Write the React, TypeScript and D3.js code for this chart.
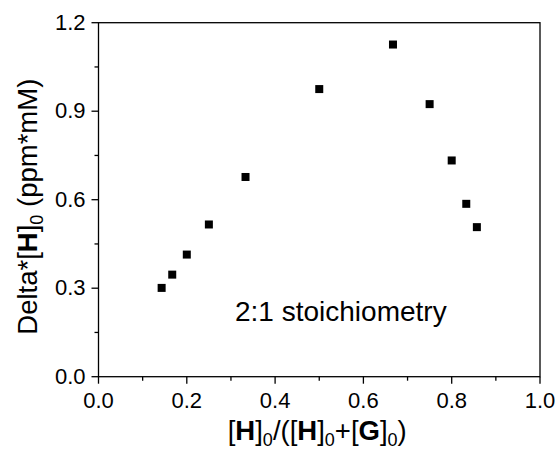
import React, { useRef, useEffect } from "react";
import * as d3 from "d3";

// mole fraction of host vs Delta*[H]0
const fractions = [0.143, 0.167, 0.2, 0.25, 0.333, 0.5, 0.667, 0.75, 0.8, 0.833, 0.857];
const deltaH = [0.301, 0.346, 0.414, 0.516, 0.677, 0.975, 1.126, 0.924, 0.733, 0.586, 0.507];
const xTicks = [0, 0.2, 0.4, 0.6, 0.8, 1.0];
const yTicks = [0, 0.3, 0.6, 0.9, 1.2];

const W = 555;
const H = 451;
const FONT = "Arial, 'Liberation Sans', sans-serif";

export default function App() {
  const svgRef = useRef<SVGSVGElement>(null);

  useEffect(() => {
    const svg = d3.select(svgRef.current);
    svg.selectAll("*").remove();

    const left = 98.5, right = 540, top = 22.7, bottom = 376.7;
    const x = d3.scaleLinear().domain([0, 1]).range([left, right]);
    const y = d3.scaleLinear().domain([0, 1.2]).range([bottom, top]);

    // frame
    svg.append("rect")
      .attr("x", left).attr("y", top)
      .attr("width", right - left).attr("height", bottom - top)
      .attr("fill", "none").attr("stroke", "#000").attr("stroke-width", 1.3);

    // x ticks
    const xMinor = d3.range(0.1, 1, 0.2);
    svg.append("g").selectAll("line").data(xTicks).join("line")
      .attr("x1", d => x(d)).attr("x2", d => x(d))
      .attr("y1", bottom).attr("y2", bottom + 7)
      .attr("stroke", "#000").attr("stroke-width", 1.3);
    svg.append("g").selectAll("line").data(xMinor).join("line")
      .attr("x1", d => x(d)).attr("x2", d => x(d))
      .attr("y1", bottom).attr("y2", bottom + 4)
      .attr("stroke", "#000").attr("stroke-width", 1.3);
    svg.append("g").selectAll("text").data(xTicks).join("text")
      .attr("x", d => x(d)).attr("y", bottom + 31)
      .attr("text-anchor", "middle")
      .attr("font-family", FONT).attr("font-size", 22)
      .text(d => d.toFixed(1));

    // y ticks
    const yMinor = [0.15, 0.45, 0.75, 1.05];
    svg.append("g").selectAll("line").data(yTicks).join("line")
      .attr("x1", left - 7).attr("x2", left)
      .attr("y1", d => y(d)).attr("y2", d => y(d))
      .attr("stroke", "#000").attr("stroke-width", 1.3);
    svg.append("g").selectAll("line").data(yMinor).join("line")
      .attr("x1", left - 4).attr("x2", left)
      .attr("y1", d => y(d)).attr("y2", d => y(d))
      .attr("stroke", "#000").attr("stroke-width", 1.3);
    svg.append("g").selectAll("text").data(yTicks).join("text")
      .attr("x", left - 13).attr("y", d => y(d) + 7)
      .attr("text-anchor", "end")
      .attr("font-family", FONT).attr("font-size", 22)
      .text(d => d.toFixed(1));

    // points
    const pts = fractions.map((f, i) => [f, deltaH[i]]);
    svg.append("g").selectAll("rect").data(pts).join("rect")
      .attr("x", d => x(d[0]) - 4).attr("y", d => y(d[1]) - 4)
      .attr("width", 8).attr("height", 8)
      .attr("fill", "#000");

    // annotation
    svg.append("text")
      .attr("x", 235).attr("y", 320.7)
      .attr("font-family", FONT).attr("font-size", 28)
      .text("2:1 stoichiometry");

    // x title
    const xt = svg.append("text")
      .attr("x", (left + right) / 2 - 2).attr("y", 440)
      .attr("text-anchor", "middle")
      .attr("font-family", FONT).attr("font-size", 27.5);
    const sub = (t: any, s: string) =>
      t.append("tspan").attr("font-size", 18).attr("dy", 6).text(s);
    const back = (t: any, s: string) =>
      t.append("tspan").attr("dy", -6).text(s);
    xt.append("tspan").text("[");
    xt.append("tspan").attr("font-weight", "bold").text("H");
    xt.append("tspan").text("]");
    sub(xt, "0");
    back(xt, "/([");
    xt.append("tspan").attr("font-weight", "bold").text("H");
    xt.append("tspan").text("]");
    sub(xt, "0");
    back(xt, "+[");
    xt.append("tspan").attr("font-weight", "bold").text("G");
    xt.append("tspan").text("]");
    sub(xt, "0");
    back(xt, ")");

    // y title
    const yt = svg.append("text")
      .attr("transform", `translate(37,${(top + bottom) / 2 + 7}) rotate(-90)`)
      .attr("text-anchor", "middle")
      .attr("font-family", FONT).attr("font-size", 27.5);
    yt.append("tspan").text("Delta*[");
    yt.append("tspan").attr("font-weight", "bold").text("H");
    yt.append("tspan").text("]");
    sub(yt, "0");
    back(yt, " (ppm*mM)");
  }, []);

  return (
    <div style={{ position: "absolute", left: 0, top: 0 }}>
      <svg ref={svgRef} width={W} height={H} style={{ display: "block", background: "#fff" }} />
    </div>
  );
}
